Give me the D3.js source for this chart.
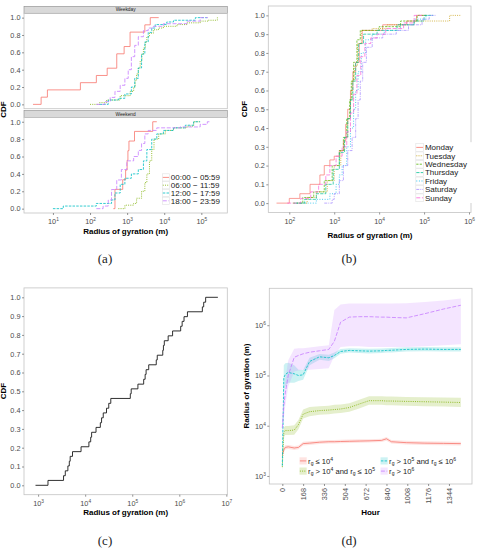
<!DOCTYPE html>
<html>
<head>
<meta charset="utf-8">
<script src="https://cdn.jsdelivr.net/npm/d3@7"></script>
<style>
  body { margin: 0; background: #fff; }
</style>
</head>
<body>
<div id="figure"></div>
<script>
// ---------- data ----------
var timeWindows = ["00:00 \u2212 05:59", "06:00 \u2212 11:59", "12:00 \u2212 17:59", "18:00 \u2212 23:59"];
var dayNames = ["Monday", "Tuesday", "Wednesday", "Thursday", "Friday", "Saturday", "Sunday"];
var rgGroups = ["r_g \u2264 10^4", "r_g > 10^4 and r_g \u2264 10^5", "r_g > 10^5 and r_g \u2264 10^6", "r_g > 10^6"];

// (a) step points of the ecdf, [radius (m), cdf]
var wdNight = [[2.9, 0], [4.8, 0.083], [7.1, 0.167], [55, 0.25], [148, 0.333], [290, 0.417], [525, 0.583], [830, 0.667], [1200, 0.833], [3000, 0.917], [4200, 1], [7100, 1]];
var wdMorning = [[100, 0], [180, 0.02], [280, 0.05], [650, 0.1], [1200, 0.15], [1500, 0.2], [1650, 0.28], [1800, 0.35], [2000, 0.42], [2250, 0.5], [2500, 0.58], [2750, 0.65], [3100, 0.72], [3400, 0.78], [4000, 0.82], [5100, 0.86], [7000, 0.88], [9500, 0.9], [22000, 0.92], [41000, 0.94], [93000, 0.96], [150000, 0.97], [270000, 1], [295000, 1]];
var wdAfternoon = [[180, 0], [310, 0.05], [580, 0.07], [870, 0.12], [1300, 0.2], [1600, 0.3], [2000, 0.42], [2450, 0.58], [3000, 0.72], [3700, 0.83], [4600, 0.88], [5700, 0.92], [11700, 0.95], [17800, 0.97], [69000, 1], [145000, 1]];
var wdEvening = [[148, 0], [250, 0.03], [350, 0.08], [470, 0.15], [650, 0.22], [870, 0.3], [1070, 0.4], [1300, 0.55], [1600, 0.68], [2000, 0.78], [2750, 0.85], [3700, 0.88], [5100, 0.9], [9500, 0.93], [41000, 0.96], [93000, 1], [150000, 1]];
var weNight = [[425, 0], [470, 0.222], [760, 0.333], [910, 0.444], [1000, 0.556], [1050, 0.667], [1120, 0.778], [1580, 0.889], [4900, 1], [6300, 1]];
var weMorning = [[580, 0], [870, 0.04], [1500, 0.06], [1800, 0.12], [2450, 0.2], [3000, 0.3], [3400, 0.4], [4000, 0.55], [4600, 0.68], [5300, 0.8], [7100, 0.86], [10700, 0.9], [17800, 0.93], [41000, 0.95], [62000, 1], [93000, 1]];
var weAfternoon = [[10, 0], [19, 0.03], [148, 0.06], [380, 0.1], [470, 0.18], [650, 0.28], [870, 0.35], [1300, 0.4], [2000, 0.45], [2750, 0.55], [3400, 0.68], [4600, 0.8], [6300, 0.86], [9500, 0.9], [17800, 0.93], [37000, 0.96], [62000, 1], [93000, 1]];
var weEvening = [[148, 0], [225, 0.03], [310, 0.1], [380, 0.22], [525, 0.33], [700, 0.45], [980, 0.55], [1500, 0.6], [2000, 0.67], [2450, 0.75], [3000, 0.86], [3700, 0.9], [6300, 0.93], [27000, 0.94], [93000, 0.97], [145000, 1], [165000, 1]];

// (b) one ecdf per day of week
var mondayCdf = [[52, 0], [100, 0.025], [172, 0.05], [290, 0.1], [480, 0.15], [600, 0.2], [800, 0.23], [1000, 0.25], [1300, 0.28], [1600, 0.33], [1800, 0.42], [2000, 0.5], [2300, 0.6], [2600, 0.7], [3000, 0.75], [3600, 0.85], [4200, 0.92], [12000, 0.95], [41000, 0.97], [68000, 1], [110000, 1]];
var tuesdayCdf = [[150, 0], [250, 0.03], [400, 0.06], [700, 0.12], [1000, 0.2], [1400, 0.28], [1700, 0.35], [2000, 0.45], [2300, 0.55], [2500, 0.65], [2800, 0.73], [3300, 0.85], [4000, 0.92], [7000, 0.93], [15000, 0.95], [60000, 0.97], [370000, 1], [680000, 1]];
var wednesdayCdf = [[120, 0], [200, 0.03], [350, 0.06], [600, 0.12], [900, 0.2], [1300, 0.28], [1600, 0.35], [1900, 0.45], [2200, 0.55], [2400, 0.65], [2700, 0.75], [3200, 0.87], [3800, 0.92], [10000, 0.94], [30000, 0.97], [70000, 1], [120000, 1]];
var thursdayCdf = [[130, 0], [220, 0.02], [400, 0.05], [650, 0.1], [950, 0.18], [1300, 0.27], [1700, 0.35], [2000, 0.45], [2300, 0.55], [2600, 0.65], [3000, 0.75], [3500, 0.85], [4500, 0.9], [9000, 0.92], [25000, 0.95], [60000, 0.97], [100000, 1], [160000, 1]];
var fridayCdf = [[150, 0], [400, 0.02], [800, 0.05], [1100, 0.1], [1300, 0.15], [1500, 0.2], [1900, 0.3], [2300, 0.4], [2700, 0.5], [3000, 0.6], [3400, 0.7], [4000, 0.8], [5000, 0.87], [7000, 0.9], [13000, 0.92], [30000, 0.95], [60000, 0.98], [110000, 1], [160000, 1]];
var saturdayCdf = [[600, 0], [900, 0.02], [1000, 0.05], [1300, 0.12], [1600, 0.2], [2000, 0.28], [2500, 0.35], [3000, 0.45], [3400, 0.55], [3800, 0.65], [4300, 0.75], [5200, 0.83], [7000, 0.88], [12000, 0.9], [24000, 0.92], [45000, 0.95], [90000, 0.98], [130000, 1], [180000, 1]];
var sundayCdf = [[90, 0], [180, 0.025], [300, 0.06], [450, 0.1], [650, 0.15], [800, 0.2], [1100, 0.25], [1500, 0.3], [1900, 0.38], [2300, 0.48], [2700, 0.58], [3200, 0.68], [3900, 0.78], [4800, 0.85], [6500, 0.88], [9000, 0.9], [14000, 0.93], [35000, 0.96], [60000, 1], [90000, 1]];

// (c) ecdf of all users
var allCdf = [[880, 0], [1620, 0.026], [3470, 0.051], [3780, 0.077], [4290, 0.103], [4600, 0.128], [4800, 0.154], [5380, 0.179], [8170, 0.205], [12000, 0.231], [13100, 0.256], [13700, 0.282], [17000, 0.308], [21000, 0.333], [22300, 0.359], [24200, 0.385], [28400, 0.41], [31700, 0.436], [35000, 0.462], [91000, 0.487], [95000, 0.513], [132000, 0.538], [175000, 0.564], [188000, 0.59], [197000, 0.615], [224000, 0.641], [324000, 0.667], [340000, 0.692], [445000, 0.718], [460000, 0.744], [480000, 0.769], [580000, 0.795], [720000, 0.821], [1070000, 0.846], [1150000, 0.872], [1260000, 0.897], [1490000, 0.923], [3090000, 0.949], [3300000, 0.974], [3630000, 1], [6600000, 1]];

// (d) mean radius of gyration per hour with band
var hours = [0, 12, 24, 48, 96, 130, 168, 220, 300, 375, 420, 470, 540, 620, 700, 800, 840, 880, 1000, 1150, 1300, 1440];
var smallMean = [2600, 3300, 3700, 3800, 3600, 3700, 4400, 4500, 4700, 4800, 4800, 4850, 4900, 4950, 5000, 5100, 5500, 4800, 4600, 4500, 4450, 4400];
var smallLow = [2250, 2950, 3350, 3450, 3300, 3400, 4050, 4150, 4350, 4450, 4450, 4500, 4550, 4600, 4650, 4750, 5050, 4450, 4250, 4150, 4100, 4050];
var smallHigh = [3000, 3700, 4100, 4150, 3950, 4050, 4800, 4900, 5100, 5200, 5200, 5250, 5300, 5350, 5400, 5500, 5950, 5200, 5000, 4900, 4850, 4800];
var midMean = [1500, 7500, 8000, 8000, 8200, 10500, 17000, 19000, 20000, 20500, 21000, 21500, 23000, 27000, 31500, 31500, 31000, 31000, 30500, 30000, 29500, 29000];
var midLow = [1200, 6000, 6500, 6500, 6600, 8500, 14000, 15500, 16500, 17000, 17500, 18000, 19000, 22000, 26000, 26000, 25500, 25500, 25000, 24500, 24000, 23500];
var midHigh = [1900, 9300, 9900, 9900, 10200, 13000, 21000, 23500, 24500, 25000, 26000, 26500, 28000, 33000, 38500, 38500, 38000, 38000, 37500, 37000, 36500, 36000];
var largeMean = [1600, 90000, 105000, 115000, 108000, 100000, 103000, 190000, 235000, 225000, 250000, 300000, 315000, 310000, 305000, 310000, 315000, 318000, 330000, 335000, 330000, 330000];
var largeLow = [1100, 50000, 60000, 72000, 72000, 78000, 82000, 160000, 205000, 195000, 220000, 270000, 285000, 280000, 275000, 280000, 285000, 288000, 300000, 305000, 300000, 300000];
var largeHigh = [2300, 160000, 175000, 180000, 160000, 130000, 128000, 225000, 268000, 258000, 285000, 335000, 350000, 345000, 340000, 345000, 350000, 352000, 365000, 370000, 365000, 365000];
var hugeMean = [9000, 25000, 45000, 100000, 230000, 250000, 270000, 290000, 310000, 330000, 480000, 1150000, 1450000, 1480000, 1480000, 1450000, 1450000, 1430000, 1400000, 1700000, 2100000, 2500000];
var hugeLow = [5000, 14000, 25000, 60000, 120000, 125000, 130000, 130000, 135000, 140000, 250000, 370000, 380000, 380000, 370000, 370000, 370000, 370000, 370000, 380000, 400000, 420000];
var hugeHigh = [15000, 45000, 80000, 200000, 340000, 350000, 350000, 360000, 380000, 400000, 2000000, 2600000, 2700000, 2700000, 2700000, 2700000, 2700000, 2700000, 2750000, 2900000, 3100000, 3400000];

// tick values
var cdfTicksA = [0, 0.2, 0.4, 0.6, 0.8, 1.0];
var cdfTicks = [0, 0.1, 0.2, 0.3, 0.4, 0.5, 0.6, 0.7, 0.8, 0.9, 1.0];
var expTicksA = [1, 2, 3, 4, 5];
var expTicksB = [2, 3, 4, 5, 6];
var expTicksC = [3, 4, 5, 6, 7];
var expTicksD = [3, 4, 5, 6];
var hourTicks = [0, 168, 336, 504, 672, 840, 1008, 1176, 1344];

// ---------- styles ----------
var hueFour = ["#F8766D", "#7CAE00", "#00BFC4", "#C77CFF"];
var dashFour = [null, "1,1.2", "2.5,1.2", "4,1.6"];
var hueSeven = ["#F8766D", "#C49A00", "#53B400", "#00C094", "#00B6EB", "#A58AFF", "#FB61D7"];
var dashSeven = [null, "1,1.2", "2.2,1.2", "3.2,1.2", "1,1.6", "3,1,1,1", "4,1.6"];
var sans = "'Liberation Sans', Arial, sans-serif";
var tickGrey = "#4d4d4d";

var svg = d3.select("#figure")
  .append("svg")
  .attr("width", 478)
  .attr("height", 549)
  .style("font-family", sans);

// ---------- helpers ----------
function styleAxis(g) {
  g.attr("font-family", null).attr("font-size", null);
  g.select(".domain").remove();
  g.selectAll(".tick line").attr("stroke", tickGrey).attr("stroke-width", 0.6);
  g.selectAll(".tick text").attr("fill", tickGrey).attr("font-size", 7.3);
}

// "10" with the exponent raised
function powerText(sel) {
  sel.each(function (d) {
    var t = d3.select(this).text(null);
    t.append("tspan").text("10");
    t.append("tspan").attr("dy", -3).attr("font-size", 4.8).text(Math.round(Math.log10(d)));
  });
}

// small markup: _x gives subscript, ^x superscript
function richText(t, label) {
  var parts = label.split(/([_^][0-9a-z])/);
  var shift = 0;
  parts.forEach(function (p) {
    if (!p) return;
    if (p[0] === "_" || p[0] === "^") {
      var target = p[0] === "_" ? 1.6 : -3;
      t.append("tspan").attr("dy", target - shift).attr("font-size", 5).text(p.slice(1));
      shift = target;
    } else {
      t.append("tspan").attr("dy", -shift).text(p);
      shift = 0;
    }
  });
}

function frame(x, y) {
  svg.append("rect")
    .attr("x", x.range()[0]).attr("y", y.range()[1])
    .attr("width", x.range()[1] - x.range()[0])
    .attr("height", y.range()[0] - y.range()[1])
    .attr("fill", "none").attr("stroke", "#c4c4c4").attr("stroke-width", 0.8);
}

function cdfAxisY(y, x0, ticks) {
  var g = svg.append("g")
    .attr("transform", "translate(" + x0 + ",0)")
    .call(d3.axisLeft(y).tickValues(ticks).tickSize(2).tickPadding(1.5).tickFormat(d3.format(".1f")));
  styleAxis(g);
}

function logAxisX(x, y0, exps) {
  var g = svg.append("g")
    .attr("transform", "translate(0," + y0 + ")")
    .call(d3.axisBottom(x).tickValues(exps.map(function (e) { return Math.pow(10, e); })).tickSize(2).tickPadding(4));
  styleAxis(g);
  g.selectAll(".tick text").call(powerText);
}

function stepLines(x, y, series, colors, dashes, width) {
  var line = d3.line()
    .x(function (d) { return x(d[0]); })
    .y(function (d) { return y(d[1]); })
    .curve(d3.curveStepAfter);
  series.forEach(function (s, i) {
    svg.append("path")
      .datum(s)
      .attr("d", line)
      .attr("fill", "none")
      .attr("stroke", colors[i])
      .attr("stroke-width", width)
      .attr("stroke-dasharray", dashes[i]);
  });
}

function lineLegend(x0, y0, labels, colors, dashes, rowH) {
  var g = svg.append("g").attr("transform", "translate(" + x0 + "," + y0 + ")");
  g.append("rect").attr("x", -1).attr("y", -1)
    .attr("width", 62).attr("height", labels.length * rowH + 2).attr("fill", "#fff");
  labels.forEach(function (lab, i) {
    var row = g.append("g").attr("transform", "translate(0," + (i * rowH) + ")");
    row.append("rect").attr("x", 0.3).attr("y", 0.3).attr("width", rowH - 0.6).attr("height", rowH - 0.6)
      .attr("fill", "#fff").attr("stroke", "#e2e2e2").attr("stroke-width", 0.6);
    row.append("line").attr("x1", 0.8).attr("x2", rowH - 0.8).attr("y1", rowH / 2).attr("y2", rowH / 2)
      .attr("stroke", colors[i]).attr("stroke-width", 0.8).attr("stroke-dasharray", dashes[i]);
    row.append("text").attr("x", rowH + 1).attr("y", rowH / 2).attr("dy", "0.35em")
      .attr("font-size", 8).attr("fill", "#1a1a1a").text(lab);
  });
}

function axisTitle(x, y, label, rotate) {
  svg.append("text")
    .attr("transform", "translate(" + x + "," + y + ")" + (rotate ? " rotate(-90)" : ""))
    .attr("text-anchor", "middle").attr("dy", "0.35em")
    .attr("font-size", 8).attr("font-weight", "bold").attr("fill", "#000")
    .text(label);
}

function caption(x, y, label) {
  svg.append("text").attr("x", x).attr("y", y).attr("text-anchor", "middle")
    .attr("font-family", "'Liberation Serif', 'DejaVu Serif', serif").attr("font-size", 13).attr("fill", "#222")
    .text(label);
}

// ---------- (a) weekday / weekend by time window ----------
var xA = d3.scaleLog().domain([Math.pow(10, 0.22), Math.pow(10, 5.7)]).range([24, 227.3]);
var yWeekday = d3.scaleLinear().domain([-0.05, 1.05]).range([108.7, 13.3]);
var yWeekend = d3.scaleLinear().domain([-0.05, 1.05]).range([213, 117.4]);

[["Weekday", 6.3, 13.3], ["Weekend", 110.5, 117.4]].forEach(function (s) {
  svg.append("rect").attr("x", 24).attr("y", s[1]).attr("width", 203.3).attr("height", s[2] - s[1])
    .attr("fill", "#d9d9d9").attr("stroke", "#8c8c8c").attr("stroke-width", 0.6);
  svg.append("text").attr("x", 125.6).attr("y", (s[1] + s[2]) / 2).attr("dy", "0.35em")
    .attr("text-anchor", "middle").attr("font-size", 4.8).attr("fill", "#1a1a1a").text(s[0]);
});

stepLines(xA, yWeekday, [wdNight, wdMorning, wdAfternoon, wdEvening], hueFour, dashFour, 0.8);
stepLines(xA, yWeekend, [weNight, weMorning, weAfternoon, weEvening], hueFour, dashFour, 0.8);
frame(xA, yWeekday);
frame(xA, yWeekend);
cdfAxisY(yWeekday, 24, cdfTicksA);
cdfAxisY(yWeekend, 24, cdfTicksA);
logAxisX(xA, 213, expTicksA);
lineLegend(162, 173.5, timeWindows, hueFour, dashFour, 7.8);
axisTitle(125.6, 231, "Radius of gyration (m)");
axisTitle(3.5, 109.5, "CDF", true);
caption(105, 262.5, "(a)");

// ---------- (b) by day of week ----------
var xB = d3.scaleLog().domain([Math.pow(10, 1.533), Math.pow(10, 6.044)]).range([268.3, 471]);
var yB = d3.scaleLinear().domain([-0.05, 1.05]).range([212.5, 6]);
stepLines(xB, yB, [mondayCdf, tuesdayCdf, wednesdayCdf, thursdayCdf, fridayCdf, saturdayCdf, sundayCdf], hueSeven, dashSeven, 0.7);
frame(xB, yB);
cdfAxisY(yB, 268.3, cdfTicks);
logAxisX(xB, 212.5, expTicksB);
lineLegend(415.5, 143.2, dayNames, hueSeven, dashSeven, 8.4);
axisTitle(370, 235, "Radius of gyration (m)");
axisTitle(244, 109, "CDF", true);
caption(349, 262.5, "(b)");

// ---------- (c) all users ----------
var xC = d3.scaleLog().domain([Math.pow(10, 2.7), Math.pow(10, 7.02)]).range([24, 227.3]);
var yC = d3.scaleLinear().domain([-0.05, 1.05]).range([494.7, 287.9]);
stepLines(xC, yC, [allCdf], ["#1a1a1a"], [null], 0.9);
frame(xC, yC);
cdfAxisY(yC, 24, cdfTicks);
logAxisX(xC, 494.7, expTicksC);
axisTitle(125.6, 512, "Radius of gyration (m)");
axisTitle(3.5, 391, "CDF", true);
caption(105, 544.5, "(c)");

// ---------- (d) radius of gyration over time ----------
var xD = d3.scaleLinear().domain([-105, 1530]).range([269.3, 472]);
var yD = d3.scaleLog().domain([Math.pow(10, 2.84), Math.pow(10, 6.735)]).range([484, 288.3]);
var bands = [[smallMean, smallLow, smallHigh], [midMean, midLow, midHigh], [largeMean, largeLow, largeHigh], [hugeMean, hugeLow, hugeHigh]];

var area = d3.area()
  .x(function (d) { return xD(d.h); })
  .y0(function (d) { return yD(d.lo); })
  .y1(function (d) { return yD(d.hi); });
var meanLine = d3.line()
  .x(function (d) { return xD(d.h); })
  .y(function (d) { return yD(d.m); });

var bandRows = bands.map(function (b) {
  return hours.map(function (h, i) { return { h: h, m: b[0][i], lo: b[1][i], hi: b[2][i] }; });
});
bandRows.forEach(function (rows, i) {
  svg.append("path").datum(rows).attr("d", area).attr("fill", hueFour[i]).attr("fill-opacity", 0.2);
});
bandRows.forEach(function (rows, i) {
  svg.append("path").datum(rows).attr("d", meanLine).attr("fill", "none")
    .attr("stroke", hueFour[i]).attr("stroke-width", 0.8).attr("stroke-dasharray", dashFour[i]);
});
frame(xD, yD);

var gy = svg.append("g")
  .attr("transform", "translate(269.3,0)")
  .call(d3.axisLeft(yD).tickValues(expTicksD.map(function (e) { return Math.pow(10, e); })).tickSize(2).tickPadding(1.5));
styleAxis(gy);
gy.selectAll(".tick text").call(powerText);

var gx = svg.append("g")
  .attr("transform", "translate(0,484)")
  .call(d3.axisBottom(xD).tickValues(hourTicks).tickSize(2).tickFormat(d3.format("d")));
styleAxis(gx);
gx.selectAll(".tick text")
  .attr("transform", "rotate(-90)")
  .attr("x", -4).attr("y", 0).attr("dy", "0.35em")
  .attr("text-anchor", "end");

// legend of the four groups, two columns
var legendPos = [[299.5, 457.3], [299.5, 467.5], [380.5, 457.3], [380.5, 467.5]];
rgGroups.forEach(function (lab, i) {
  var g = svg.append("g").attr("transform", "translate(" + legendPos[i][0] + "," + legendPos[i][1] + ")");
  g.append("rect").attr("width", 7.2).attr("height", 7.2)
    .attr("fill", hueFour[i]).attr("fill-opacity", 0.2);
  g.append("line").attr("x1", 0.4).attr("x2", 6.8).attr("y1", 3.6).attr("y2", 3.6)
    .attr("stroke", hueFour[i]).attr("stroke-width", 0.8).attr("stroke-dasharray", dashFour[i]);
  var t = g.append("text").attr("x", 8.6).attr("y", 6.2).attr("font-size", 7.6).attr("fill", "#1a1a1a");
  richText(t, lab);
});

axisTitle(370.5, 512, "Hour");
axisTitle(246.5, 386, "Radius of gyration (m)", true);
caption(349, 544.5, "(d)");
</script>
</body>
</html>
